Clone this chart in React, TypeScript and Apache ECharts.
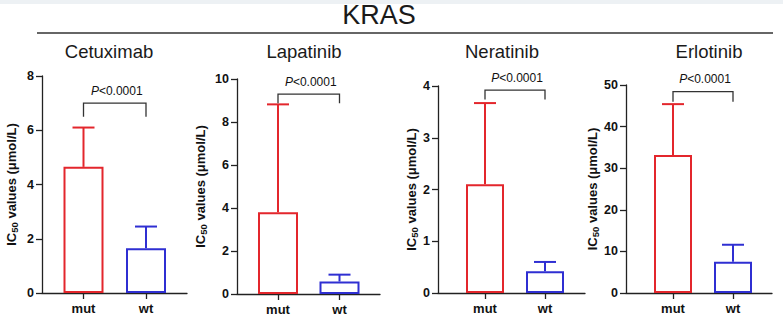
import React, { useEffect, useRef } from "react";
import * as echarts from "echarts";

// ---- data ----
const groups = ["mut", "wt"];
const drugs = ["Cetuximab", "Lapatinib", "Neratinib", "Erlotinib"];
const cetuximabMean = [4.65, 1.65];
const cetuximabSD = [1.45, 0.8];
const lapatinibMean = [3.8, 0.58];
const lapatinibSD = [5.02, 0.32];
const neratinibMean = [2.1, 0.42];
const neratinibSD = [1.57, 0.18];
const erlotinibMean = [33.2, 7.5];
const erlotinibSD = [12.2, 4.1];
const yMax = [8, 10, 4, 50];
const yStep = [2, 2, 1, 10];
const pLabel = "P<0.0001";
const bracketTop = [7.0, 9.3, 3.92, 48.4];
const bracketLeg = [6.5, 8.87, 3.74, 46.0];

const means = [cetuximabMean, lapatinibMean, neratinibMean, erlotinibMean];
const sds = [cetuximabSD, lapatinibSD, neratinibSD, erlotinibSD];

// ---- layout ----
const FONT = "'Liberation Sans', Arial, sans-serif";
const RED = "#e3262c";
const BLUE = "#2f2fd2";
const AXIS = "#222";
const panels = [
  { left: 42, right: 187, top: 76, bottom: 293, cat: [41.5, 104], barW: 40, nameGap: 23, title: 109 },
  { left: 237, right: 380, top: 79, bottom: 294, cat: [41, 102.5], barW: 40, nameGap: 29, title: 304 },
  { left: 438, right: 585, top: 86, bottom: 293, cat: [47, 107], barW: 38, nameGap: 18, title: 502 },
  { left: 626, right: 772, top: 85, bottom: 293, cat: [47, 107], barW: 38, nameGap: 21, title: 709 },
];
const colors = [RED, BLUE];

export default function App() {
  const ref = useRef<HTMLDivElement>(null);
  useEffect(() => {
    if (!ref.current) return;
    const chart = echarts.init(ref.current, undefined, { renderer: "svg" });
    const grid: any[] = [];
    const xAxis: any[] = [];
    const yAxis: any[] = [];
    const series: any[] = [];
    const graphic: any[] = [
      { type: "rect", shape: { x: 0, y: 0, width: 783, height: 4 }, style: { fill: "#edf1f4" } },
      {
        type: "text",
        x: 379,
        y: 15,
        style: { text: "KRAS", font: `27px ${FONT}`, fill: "#1a1a1a", align: "center", verticalAlign: "middle" },
      },
      {
        type: "line",
        shape: { x1: 37, y1: 33, x2: 773, y2: 33 },
        style: { stroke: "#333", lineWidth: 1.5 },
      },
    ];
    panels.forEach((p, i) => {
      const w = p.right - p.left;
      grid.push({ left: p.left, top: p.top, width: w, height: p.bottom - p.top, containLabel: false });
      graphic.push({
        type: "text",
        x: p.title,
        y: 51,
        style: { text: drugs[i], font: `18.5px ${FONT}`, fill: "#1a1a1a", align: "center", verticalAlign: "middle" },
      });
      xAxis.push({
        gridIndex: i,
        type: "value",
        min: 0,
        max: w,
        axisLine: { show: true, onZero: false, lineStyle: { color: AXIS, width: 1.3 } },
        axisTick: { show: true, length: 6, customValues: p.cat, lineStyle: { color: AXIS, width: 1.3 } },
        axisLabel: {
          customValues: p.cat,
          formatter: (v: number) => {
            const k = p.cat.findIndex((c) => Math.abs(c - v) < 0.01);
            return k >= 0 ? groups[k] : "";
          },
          fontFamily: FONT,
          fontWeight: "bold",
          fontSize: 13,
          color: "#111",
          margin: 9,
        },
        splitLine: { show: false },
      });
      yAxis.push({
        gridIndex: i,
        type: "value",
        min: 0,
        max: yMax[i],
        interval: yStep[i],
        axisLine: { show: true, lineStyle: { color: AXIS, width: 1.3 } },
        axisTick: { show: true, length: 6, lineStyle: { color: AXIS, width: 1.3 } },
        axisLabel: { fontFamily: FONT, fontWeight: "bold", fontSize: 12.5, color: "#111", margin: 8 },
        splitLine: { show: false },
        name: "{n|IC}{s|50}{n| values (μmol/L)}",
        nameLocation: "middle",
        nameGap: p.nameGap,
        nameTextStyle: {
          rich: {
            n: { fontFamily: FONT, fontWeight: "bold", fontSize: 13, color: "#111", lineHeight: 16 },
            s: {
              fontFamily: FONT,
              fontWeight: "bold",
              fontSize: 9.5,
              color: "#111",
              lineHeight: 16,
              verticalAlign: "bottom",
              padding: [5, 0, 0, 0],
            },
          },
        },
      });
      series.push({
        type: "bar",
        xAxisIndex: i,
        yAxisIndex: i,
        barWidth: p.barW,
        data: groups.map((g, k) => ({
          value: [p.cat[k], means[i][k]],
          itemStyle: { color: "rgba(255,255,255,0)", borderColor: colors[k], borderWidth: 2 },
        })),
      });
      series.push({
        type: "custom",
        xAxisIndex: i,
        yAxisIndex: i,
        encode: { x: 0, y: 1 },
        data: groups.map((g, k) => [p.cat[k], means[i][k], sds[i][k]]),
        renderItem: (params: any, api: any) => {
          const x = api.value(0);
          const m = api.value(1);
          const s = api.value(2);
          const b = api.coord([x, m]);
          const t = api.coord([x, m + s]);
          const c = colors[params.dataIndex];
          return {
            type: "group",
            children: [
              { type: "line", shape: { x1: b[0], y1: b[1], x2: t[0], y2: t[1] }, style: { stroke: c, lineWidth: 2 } },
              { type: "line", shape: { x1: t[0] - 11, y1: t[1], x2: t[0] + 11, y2: t[1] }, style: { stroke: c, lineWidth: 2 } },
            ],
          };
        },
      });
      series.push({
        type: "custom",
        xAxisIndex: i,
        yAxisIndex: i,
        encode: { x: [0, 1], y: [2, 3] },
        data: [[p.cat[0], p.cat[1], bracketTop[i], bracketLeg[i]]],
        renderItem: (params: any, api: any) => {
          const a = api.coord([api.value(0), api.value(3)]);
          const at = api.coord([api.value(0), api.value(2)]);
          const bt = api.coord([api.value(1), api.value(2)]);
          const b = api.coord([api.value(1), api.value(3)]);
          return {
            type: "group",
            children: [
              {
                type: "polyline",
                shape: { points: [a, at, bt, b] },
                style: { stroke: "#333", lineWidth: 1.3, fill: "none" },
              },
              {
                type: "text",
                x: (at[0] + bt[0]) / 2 + 2,
                y: at[1] - 12.5,
                style: {
                  text: "{i|P}{n|" + pLabel.slice(1) + "}",
                  align: "center",
                  verticalAlign: "middle",
                  rich: {
                    i: { fontFamily: FONT, fontStyle: "italic", fontSize: 12, fill: "#111" },
                    n: { fontFamily: FONT, fontSize: 12, fill: "#111" },
                  },
                },
              },
            ],
          };
        },
      });
    });
    chart.setOption({
      animation: false,
      backgroundColor: "#fff",
      grid,
      xAxis,
      yAxis,
      series,
      graphic,
    });
    return () => chart.dispose();
  }, []);
  return <div ref={ref} style={{ position: "fixed", left: 0, top: 0, width: 783, height: 323 }} />;
}
